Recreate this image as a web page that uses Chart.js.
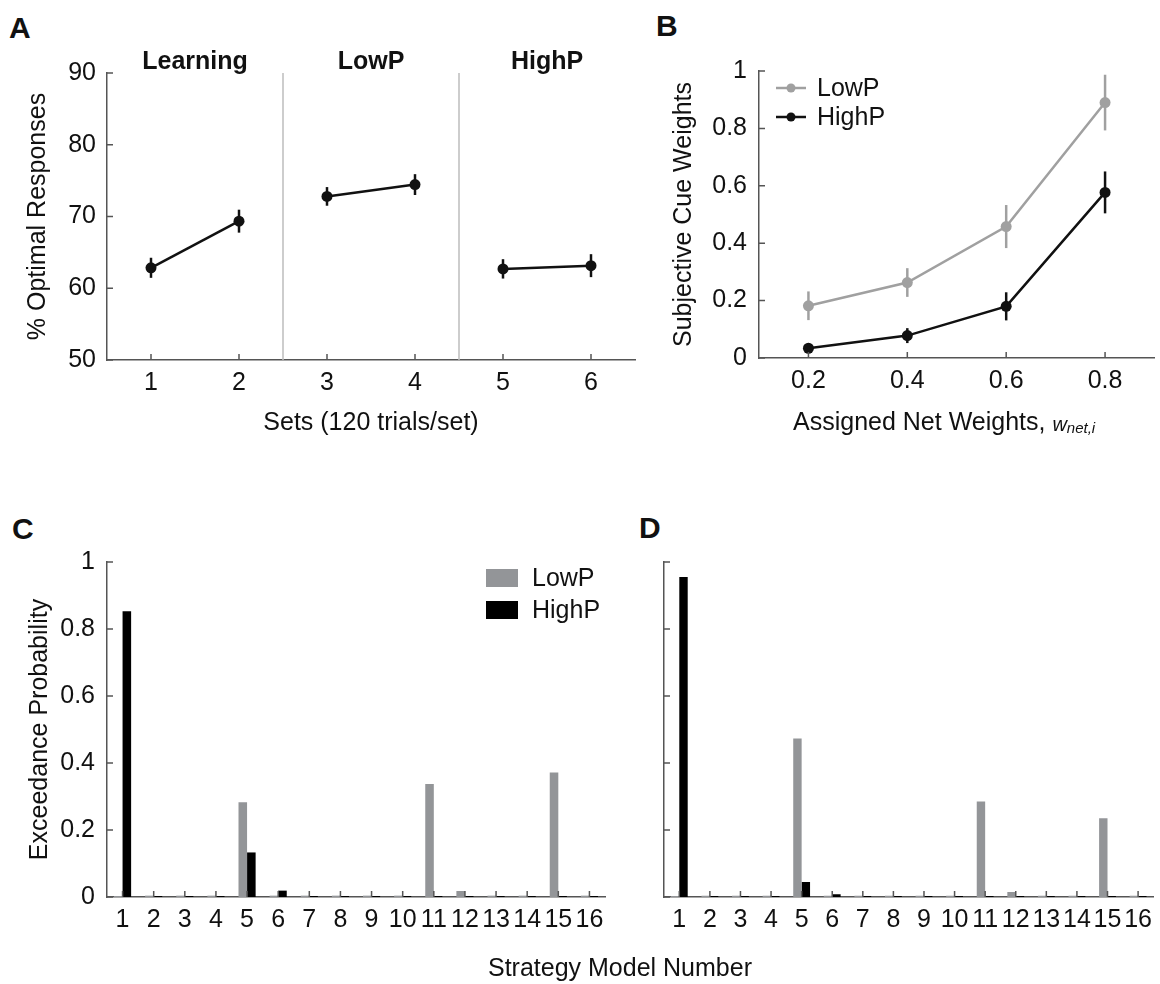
<!DOCTYPE html>
<html>
<head>
<meta charset="utf-8">
<title>Optimal responses, cue weights and exceedance probabilities</title>
<script src="https://cdn.jsdelivr.net/npm/chart.js@4.4.1/dist/chart.umd.min.js"></script>
<style>
  html, body { margin: 0; padding: 0; background: #fff; overflow: hidden; }
  body { width: 1160px; height: 984px; position: relative; font-family: 'Liberation Sans', Arial, sans-serif; color: #111; }
  .panel { position: absolute; }
  .panel canvas { display: block; }
  .letter { position: absolute; font-weight: bold; font-size: 30px; line-height: 30px; }
  #strategyTitle { position: absolute; left: 420px; top: 952px; width: 400px; text-align: center; font-size: 25px; line-height: 30px; }
</style>
</head>
<body>
<div class="letter" style="left:9px;top:13px">A</div>
<div class="letter" style="left:656px;top:11px">B</div>
<div class="letter" style="left:12px;top:514px">C</div>
<div class="letter" style="left:639px;top:513px">D</div>

<div class="panel" style="left:0;top:40px"><canvas id="chartA" width="650" height="410"></canvas></div>
<div class="panel" style="left:620px;top:40px"><canvas id="chartB" width="540" height="410"></canvas></div>
<div class="panel" style="left:0;top:500px"><canvas id="chartC" width="620" height="460"></canvas></div>
<div class="panel" style="left:620px;top:500px"><canvas id="chartD" width="540" height="460"></canvas></div>
<div id="strategyTitle">Strategy Model Number</div>

<script>
// panel A: % optimal responses per set
const setNumbers = [1, 2, 3, 4, 5, 6];
const optimalPct = [62.85, 69.35, 72.8, 74.45, 62.7, 63.15];
const optimalErr = [1.4, 1.6, 1.3, 1.45, 1.35, 1.6];
const phaseNames = ['Learning', 'LowP', 'HighP'];
const phaseCenters = [1.5, 3.5, 5.5];
const phaseBreaks = [2.5, 4.5];

// panel B: subjective cue weights
const netWeights = [0.2, 0.4, 0.6, 0.8];
const lowPCue = [0.182, 0.263, 0.458, 0.89];
const lowPCueErr = [0.05, 0.05, 0.075, 0.097];
const highPCue = [0.034, 0.078, 0.18, 0.577];
const highPCueErr = [0.015, 0.026, 0.049, 0.073];

// panels C and D: exceedance probability per strategy model
const strategyModels = ['1', '2', '3', '4', '5', '6', '7', '8', '9', '10', '11', '12', '13', '14', '15', '16'];
const exceedLowC  = [0.003, 0.004, 0.004, 0.004, 0.283, 0.004, 0.004, 0.004, 0.004, 0.004, 0.337, 0.018, 0.004, 0.004, 0.372, 0.004];
const exceedHighC = [0.853, 0.003, 0.003, 0.003, 0.133, 0.019, 0.003, 0.003, 0.003, 0.003, 0.003, 0.003, 0.003, 0.003, 0.003, 0.003];
const exceedLowD  = [0.003, 0.004, 0.004, 0.004, 0.473, 0.004, 0.004, 0.004, 0.004, 0.004, 0.285, 0.015, 0.004, 0.004, 0.235, 0.004];
const exceedHighD = [0.955, 0.003, 0.003, 0.003, 0.045, 0.008, 0.003, 0.003, 0.003, 0.003, 0.003, 0.003, 0.003, 0.003, 0.003, 0.003];

const fontFamily = "'Liberation Sans', Arial, sans-serif";
const ink = '#111111';
const lightGrey = '#a0a0a0';
const barGrey = '#939598';
const axisColor = '#555555';

Chart.defaults.font.family = fontFamily;
Chart.defaults.font.size = 25;
Chart.defaults.color = ink;

// MATLAB style ticks pointing into the plot
const inwardTicks = {
	id: 'inwardTicks',
	afterDraw(chart) {
		const { ctx, chartArea } = chart;
		const xs = chart.scales.x, ys = chart.scales.y;
		ctx.save();
		ctx.strokeStyle = axisColor;
		ctx.lineWidth = 1.5;
		ctx.beginPath();
		xs.ticks.forEach((t, i) => {
			const px = xs.getPixelForTick(i);
			ctx.moveTo(px, chartArea.bottom);
			ctx.lineTo(px, chartArea.bottom - 6);
		});
		ys.ticks.forEach((t, i) => {
			const py = ys.getPixelForTick(i);
			ctx.moveTo(chartArea.left, py);
			ctx.lineTo(chartArea.left + 6, py);
		});
		ctx.stroke();
		ctx.restore();
	}
};

const errorBars = {
	id: 'errorBars',
	afterDatasetsDraw(chart) {
		const { ctx } = chart;
		const ys = chart.scales.y;
		chart.data.datasets.forEach((ds, di) => {
			if (!ds.errors) return;
			const meta = chart.getDatasetMeta(di);
			ctx.save();
			ctx.strokeStyle = ds.borderColor;
			ctx.lineWidth = 2.5;
			meta.data.forEach((pt, i) => {
				const v = ds.data[i].y;
				const e = ds.errors[i];
				ctx.beginPath();
				ctx.moveTo(pt.x, ys.getPixelForValue(v - e));
				ctx.lineTo(pt.x, ys.getPixelForValue(v + e));
				ctx.stroke();
			});
			ctx.restore();
		});
	}
};

const phases = {
	id: 'phases',
	beforeDatasetsDraw(chart) {
		const { ctx, chartArea } = chart;
		const xs = chart.scales.x;
		ctx.save();
		ctx.strokeStyle = '#bdbdbd';
		ctx.lineWidth = 1.5;
		phaseBreaks.forEach(b => {
			const px = xs.getPixelForValue(b);
			ctx.beginPath();
			ctx.moveTo(px, chartArea.top);
			ctx.lineTo(px, chartArea.bottom);
			ctx.stroke();
		});
		ctx.fillStyle = ink;
		ctx.font = 'bold 25px ' + fontFamily;
		ctx.textAlign = 'center';
		ctx.textBaseline = 'alphabetic';
		phaseNames.forEach((name, i) => {
			ctx.fillText(name, xs.getPixelForValue(phaseCenters[i]), chartArea.top - 4);
		});
		ctx.restore();
	}
};

// legend with line + marker (panel B)
const lineLegend = {
	id: 'lineLegend',
	afterDraw(chart, args, opts) {
		if (!opts.show) return;
		const { ctx, chartArea } = chart;
		const x0 = chartArea.left + 17;
		ctx.save();
		chart.data.datasets.forEach((ds, i) => {
			const y = chartArea.top + 17 + i * 29;
			ctx.strokeStyle = ds.borderColor;
			ctx.lineWidth = 2.5;
			ctx.beginPath();
			ctx.moveTo(x0, y);
			ctx.lineTo(x0 + 30, y);
			ctx.stroke();
			ctx.fillStyle = ds.borderColor;
			ctx.beginPath();
			ctx.arc(x0 + 15, y, 4.5, 0, Math.PI * 2);
			ctx.fill();
			ctx.fillStyle = ink;
			ctx.font = '25px ' + fontFamily;
			ctx.textBaseline = 'middle';
			ctx.fillText(ds.label, x0 + 41, y + 1);
		});
		ctx.restore();
	}
};

// legend with filled boxes (panel C)
const boxLegend = {
	id: 'boxLegend',
	afterDraw(chart, args, opts) {
		if (!opts.show) return;
		const { ctx, chartArea } = chart;
		const x0 = chartArea.left + 379;
		ctx.save();
		chart.data.datasets.forEach((ds, i) => {
			const y = chartArea.top + 16 + i * 32;
			ctx.fillStyle = ds.backgroundColor;
			ctx.fillRect(x0, y - 9, 32, 18);
			ctx.fillStyle = ink;
			ctx.font = '25px ' + fontFamily;
			ctx.textBaseline = 'middle';
			ctx.fillText(ds.label, x0 + 46, y + 1);
		});
		ctx.restore();
	}
};

// x title of panel B has an italic subscripted symbol
const weightTitle = {
	id: 'weightTitle',
	afterDraw(chart) {
		const { ctx, chartArea } = chart;
		const y = 383;
		let x = chartArea.left + 34;
		ctx.save();
		ctx.fillStyle = ink;
		ctx.textBaseline = 'middle';
		ctx.font = '25px ' + fontFamily;
		const main = 'Assigned Net Weights, ';
		ctx.fillText(main, x, y);
		x += ctx.measureText(main).width;
		ctx.font = 'italic 20px ' + fontFamily;
		ctx.fillText('w', x, y + 2);
		x += ctx.measureText('w').width;
		ctx.font = 'italic 15px ' + fontFamily;
		ctx.fillText('net,i', x, y + 6);
		ctx.restore();
	}
};

function axisStyle() {
	return {
		grid: { display: false, drawTicks: false },
		border: { display: true, color: axisColor, width: 1.5 },
		ticks: { color: ink }
	};
}

function noChrome() {
	return { legend: { display: false }, tooltip: { enabled: false } };
}

// ---- A ----
new Chart(document.getElementById('chartA'), {
	type: 'line',
	data: {
		datasets: [{
			label: '% Optimal',
			data: setNumbers.map((s, i) => ({ x: s, y: optimalPct[i] })),
			errors: optimalErr,
			borderColor: ink,
			backgroundColor: ink,
			borderWidth: 2.5,
			pointRadius: 5.5,
			pointBorderWidth: 0,
			pointBackgroundColor: ink,
			segment: {
				borderColor: c => (c.p0DataIndex % 2 === 1 ? 'rgba(0,0,0,0)' : ink)
			}
		}]
	},
	options: {
		responsive: false,
		animation: false,
		layout: { padding: { top: 33, right: 15, left: 0, bottom: 0 } },
		plugins: noChrome(),
		scales: {
			x: {
				...axisStyle(),
				type: 'linear',
				min: 0.5,
				max: 6.5,
				afterBuildTicks: s => { s.ticks = setNumbers.map(v => ({ value: v })); },
				afterFit: s => { s.height = 90; },
				ticks: { color: ink, padding: 8, callback: v => String(v) },
				title: { display: true, text: 'Sets (120 trials/set)', padding: { top: 0, bottom: 12 } }
			},
			y: {
				...axisStyle(),
				min: 50,
				max: 90,
				afterFit: s => { s.width = 107; },
				ticks: { color: ink, padding: 11, stepSize: 10 },
				title: { display: true, text: '% Optimal Responses', padding: { top: 23, bottom: 0 } }
			}
		}
	},
	plugins: [phases, errorBars, inwardTicks]
});

// ---- B ----
new Chart(document.getElementById('chartB'), {
	type: 'line',
	data: {
		datasets: [
			{
				label: 'LowP',
				data: netWeights.map((w, i) => ({ x: w, y: lowPCue[i] })),
				errors: lowPCueErr,
				borderColor: lightGrey,
				backgroundColor: lightGrey,
				borderWidth: 2.5,
				pointRadius: 5.5,
				pointBorderWidth: 0,
				pointBackgroundColor: lightGrey
			},
			{
				label: 'HighP',
				data: netWeights.map((w, i) => ({ x: w, y: highPCue[i] })),
				errors: highPCueErr,
				borderColor: ink,
				backgroundColor: ink,
				borderWidth: 2.5,
				pointRadius: 5.5,
				pointBorderWidth: 0,
				pointBackgroundColor: ink
			}
		]
	},
	options: {
		responsive: false,
		animation: false,
		layout: { padding: { top: 31, right: 2, left: 0, bottom: 0 } },
		plugins: { ...noChrome(), lineLegend: { show: true } },
		scales: {
			x: {
				...axisStyle(),
				type: 'linear',
				min: 0.1,
				max: 0.9,
				afterBuildTicks: s => { s.ticks = netWeights.map(v => ({ value: v })); },
				afterFit: s => { s.height = 92; },
				ticks: { color: ink, padding: 8, callback: v => v.toFixed(1) }
			},
			y: {
				...axisStyle(),
				min: 0,
				max: 1,
				afterFit: s => { s.width = 139; },
				ticks: { color: ink, padding: 12, stepSize: 0.2, callback: v => String(Number(v.toFixed(1))) },
				title: { display: true, text: 'Subjective Cue Weights', padding: { top: 49, bottom: 0 } }
			}
		}
	},
	plugins: [errorBars, inwardTicks, lineLegend, weightTitle]
});

// ---- C and D ----
function exceedanceChart(id, lowVals, highVals, opts) {
	return new Chart(document.getElementById(id), {
		type: 'bar',
		data: {
			labels: strategyModels,
			datasets: [
				{ label: 'LowP', data: lowVals, backgroundColor: barGrey, borderWidth: 0 },
				{ label: 'HighP', data: highVals, backgroundColor: '#000000', borderWidth: 0 }
			]
		},
		options: {
			responsive: false,
			animation: false,
			categoryPercentage: 0.55,
			barPercentage: 1.0,
			layout: { padding: { top: 62, right: opts.right, left: 0, bottom: 0 } },
			plugins: { ...noChrome(), boxLegend: { show: opts.legend } },
			scales: {
				x: {
					...axisStyle(),
					afterFit: s => { s.height = 63; },
					ticks: { color: ink, padding: 8, autoSkip: false, maxRotation: 0 }
				},
				y: {
					...axisStyle(),
					min: 0,
					max: 1,
					afterFit: s => { s.width = opts.yWidth; },
					ticks: { display: opts.yLabels, color: ink, padding: 12, stepSize: 0.2, callback: v => String(Number(v.toFixed(1))) },
					title: { display: opts.yLabels, text: 'Exceedance Probability', padding: { top: 25, bottom: 0 } }
				}
			}
		},
		plugins: [inwardTicks, boxLegend]
	});
}

exceedanceChart('chartC', exceedLowC, exceedHighC, { right: 15, yWidth: 107, yLabels: true, legend: true });
exceedanceChart('chartD', exceedLowD, exceedHighD, { right: 0, yWidth: 44, yLabels: false, legend: false });
</script>
</body>
</html>
